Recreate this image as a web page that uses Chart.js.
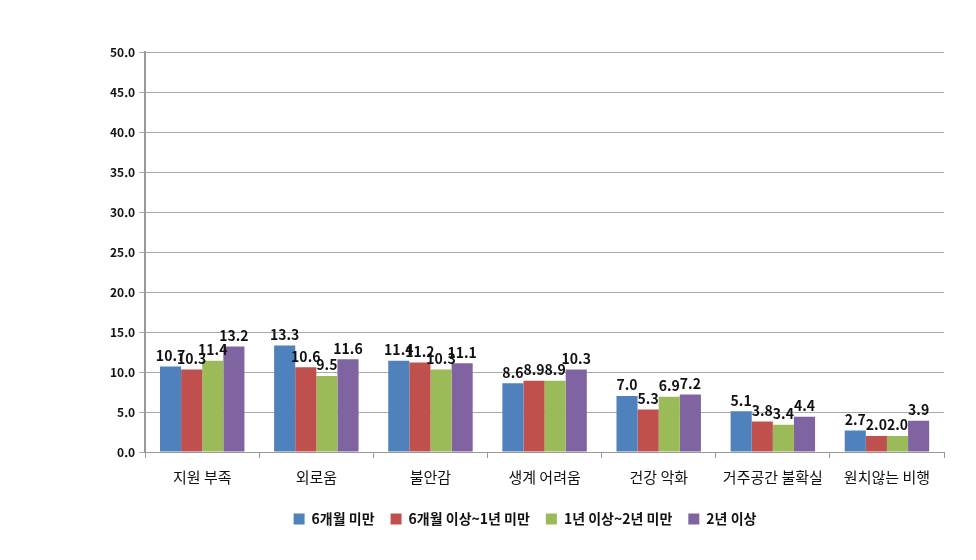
<!DOCTYPE html>
<html lang="ko">
<head>
<meta charset="utf-8">
<title>Chart</title>
<script src="https://cdn.jsdelivr.net/npm/chart.js"></script>
<style>
  body { margin: 0; background: #fff; }
</style>
</head>
<body>
<canvas id="myChart" width="976" height="560"></canvas>
<script>
  const categories = ['지원 부족', '외로움', '불안감', '생계 어려움', '건강 악화', '거주공간 불확실', '원치않는 비행'];
  const seriesNames = ['6개월 미만', '6개월 이상~1년 미만', '1년 이상~2년 미만', '2년 이상'];
  const under6m = [10.7, 13.3, 11.4, 8.6, 7.0, 5.1, 2.7];
  const m6to1y = [10.3, 10.6, 11.2, 8.9, 5.3, 3.8, 2.0];
  const y1to2 = [11.4, 9.5, 10.3, 8.9, 6.9, 3.4, 2.0];
  const over2y = [13.2, 11.6, 11.1, 10.3, 7.2, 4.4, 3.9];
  const colors = ['#4F81BD', '#C0504D', '#9BBB59', '#8064A2'];

  const font = "'Noto Sans CJK KR', 'Noto Sans', sans-serif";

  // value labels above bars
  const valueLabels = {
    id: 'valueLabels',
    afterDatasetsDraw(chart) {
      const c = chart.ctx;
      c.save();
      c.font = 'bold 14px ' + font;
      c.fillStyle = '#111';
      c.textAlign = 'center';
      c.textBaseline = 'bottom';
      chart.data.datasets.forEach((ds, i) => {
        chart.getDatasetMeta(i).data.forEach((bar, j) => {
          c.fillText(ds.data[j].toFixed(1), bar.x, bar.y - 4);
        });
      });
      c.restore();
    }
  };

  const ctx = document.getElementById('myChart').getContext('2d');
  new Chart(ctx, {
    type: 'bar',
    data: {
      labels: categories,
      datasets: [under6m, m6to1y, y1to2, over2y].map((d, i) => ({
        label: seriesNames[i],
        data: d,
        backgroundColor: colors[i],
        barPercentage: 1.0,
        categoryPercentage: 0.74
      }))
    },
    options: {
      responsive: false,
      animation: false,
      layout: { padding: { left: 106, right: 32, top: 52, bottom: 24 } },
      plugins: {
        legend: {
          position: 'bottom',
          labels: {
            boxWidth: 11, boxHeight: 11, padding: 16,
            color: '#111',
            font: { family: font, size: 14, weight: 'bold' }
          }
        },
        tooltip: { enabled: false }
      },
      scales: {
        x: {
          grid: { display: true, drawOnChartArea: false, offset: true, color: '#999', tickLength: 6 },
          border: { color: '#999' },
          ticks: { color: '#111', font: { family: font, size: 15 }, padding: 10 }
        },
        y: {
          min: 0, max: 50,
          grid: { color: '#aaa', tickLength: 6 },
          border: { color: '#999', width: 2 },
          ticks: {
            stepSize: 5, color: '#111', padding: 4,
            font: { family: font, size: 12, weight: 'bold' },
            callback: v => v.toFixed(1)
          }
        }
      }
    },
    plugins: [valueLabels]
  });
</script>
</body>
</html>
